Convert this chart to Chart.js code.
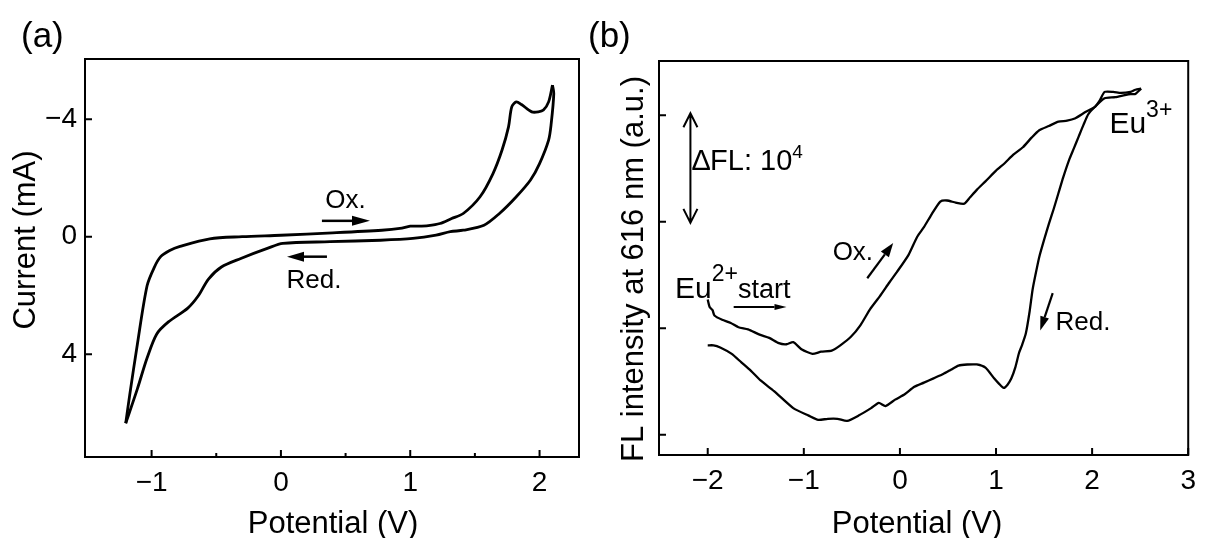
<!DOCTYPE html>
<html>
<head>
<meta charset="utf-8">
<script src="https://cdn.jsdelivr.net/npm/chart.js"></script>
<style>
  html, body { margin: 0; padding: 0; background: #fff; }
  #wrap { position: relative; width: 1205px; height: 538px; }
  canvas { position: absolute; left: 0; top: 0; }
</style>
</head>
<body>
<div id="wrap">
  <canvas id="cvChart" width="1205" height="538"></canvas>
  <canvas id="flChart" width="1205" height="538"></canvas>
</div>
<script>
const FONT = '"Liberation Sans", Arial, sans-serif';

// (a) cyclic voltammogram: forward (Ox.) and backward (Red.) sweep
const cvOxPotential = [-1.20, -1.17, -1.11, -1.035, -0.98, -0.93, -0.86, -0.78, -0.55, -0.30, 0.0, 0.4, 0.78, 0.92, 1.0, 1.05, 1.14, 1.23, 1.32, 1.41, 1.54, 1.64, 1.71, 1.76, 1.785, 1.82, 1.86, 1.94, 1.99, 2.03, 2.07, 2.10];
const cvOxCurrent = [6.35, 5.41, 3.66, 1.67, 1.05, 0.68, 0.47, 0.33, 0.07, 0.0, -0.05, -0.13, -0.22, -0.28, -0.36, -0.36, -0.38, -0.45, -0.62, -0.79, -1.36, -2.15, -2.95, -3.74, -4.42, -4.59, -4.50, -4.25, -4.25, -4.31, -4.59, -5.16];
const cvRedPotential = [2.10, 2.11, 2.09, 2.07, 2.00, 1.93, 1.82, 1.69, 1.57, 1.41, 1.31, 1.20, 1.02, 0.77, 0.38, 0.015, -0.10, -0.31, -0.46, -0.56, -0.64, -0.72, -0.87, -0.96, -1.035, -1.11, -1.20];
const cvRedCurrent = [-5.16, -4.87, -3.85, -3.29, -2.49, -1.93, -1.36, -0.79, -0.39, -0.22, -0.17, -0.05, 0.06, 0.12, 0.17, 0.23, 0.39, 0.74, 1.03, 1.44, 2.02, 2.43, 2.90, 3.31, 4.13, 5.18, 6.35];
const cvPotentialTicks = [-1, 0, 1, 2];
const cvPotentialMinor = [-0.5, 0.5, 1.5];
const cvCurrentTicks = [-4, 0, 4];

// (b) FL intensity at 616 nm (tick step = 10^4, offset arbitrary)
const flOxPotential = [-2.00, -1.98, -1.95, -1.93, -1.85, -1.76, -1.68, -1.58, -1.46, -1.36, -1.26, -1.18, -1.11, -1.02, -0.91, -0.82, -0.71, -0.62, -0.51, -0.41, -0.31, -0.21, -0.11, -0.03, 0.09, 0.18, 0.25, 0.33, 0.42, 0.49, 0.58, 0.67, 0.73, 0.80, 0.89, 1.00, 1.09, 1.18, 1.28, 1.37, 1.45, 1.55, 1.65, 1.74, 1.82, 1.93, 2.03, 2.08, 2.13, 2.22, 2.30, 2.40, 2.45, 2.51];
const flOxIntensity = [2.27, 2.20, 2.17, 2.12, 2.08, 2.05, 2.01, 1.99, 1.94, 1.91, 1.86, 1.85, 1.87, 1.80, 1.76, 1.78, 1.79, 1.84, 1.92, 2.03, 2.18, 2.30, 2.43, 2.53, 2.69, 2.86, 2.95, 3.07, 3.19, 3.20, 3.18, 3.17, 3.23, 3.30, 3.38, 3.48, 3.55, 3.63, 3.70, 3.79, 3.86, 3.90, 3.94, 3.95, 3.97, 4.03, 4.08, 4.14, 4.22, 4.22, 4.21, 4.22, 4.24, 4.25];
const flRedPotential = [2.51, 2.45, 2.40, 2.34, 2.24, 2.13, 2.03, 1.96, 1.91, 1.86, 1.81, 1.76, 1.70, 1.65, 1.60, 1.55, 1.50, 1.45, 1.41, 1.38, 1.35, 1.31, 1.27, 1.24, 1.20, 1.16, 1.12, 1.08, 1.03, 0.98, 0.89, 0.80, 0.70, 0.61, 0.53, 0.45, 0.35, 0.25, 0.15, 0.05, -0.05, -0.15, -0.22, -0.30, -0.43, -0.55, -0.65, -0.75, -0.85, -0.95, -1.11, -1.31, -1.45, -1.55, -1.65, -1.75, -1.87, -1.94, -2.00];
const flRedIntensity = [4.25, 4.20, 4.20, 4.19, 4.17, 4.16, 4.08, 4.01, 3.91, 3.80, 3.69, 3.58, 3.42, 3.27, 3.12, 2.98, 2.83, 2.67, 2.50, 2.36, 2.16, 1.95, 1.84, 1.77, 1.63, 1.53, 1.47, 1.44, 1.48, 1.53, 1.63, 1.66, 1.66, 1.65, 1.61, 1.57, 1.53, 1.49, 1.45, 1.38, 1.33, 1.27, 1.30, 1.25, 1.18, 1.13, 1.15, 1.15, 1.14, 1.18, 1.25, 1.41, 1.51, 1.60, 1.68, 1.76, 1.82, 1.84, 1.84];
const flPotentialTicks = [-2, -1, 0, 1, 2, 3];
const flIntensityTicks = [1, 2, 3, 4];

function toPoints(xs, ys) {
  return xs.map((x, i) => ({ x: x, y: ys[i] }));
}

function withMinus(v) {
  return v < 0 ? "\u2212" + Math.abs(v) : String(v);
}

function drawRuns(ctx, x, y, runs, align) {
  let total = 0;
  runs.forEach((r) => {
    ctx.font = r.size + "px " + FONT;
    r.w = ctx.measureText(r.text).width;
    total += r.w;
  });
  let cx = align === "center" ? x - total / 2 : x;
  ctx.textAlign = "left";
  ctx.textBaseline = "alphabetic";
  runs.forEach((r) => {
    ctx.font = r.size + "px " + FONT;
    ctx.fillText(r.text, cx, y - (r.rise || 0));
    cx += r.w;
  });
}

function drawArrow(ctx, x1, y1, x2, y2, a) {
  const ang = Math.atan2(y2 - y1, x2 - x1);
  const len = a.head, half = a.half;
  ctx.lineWidth = a.width;
  ctx.beginPath();
  if (a.open) {
    ctx.moveTo(x1, y1);
    ctx.lineTo(x2, y2);
    [[x2, y2, ang], [x1, y1, ang + Math.PI]].forEach((e) => {
      const bx = e[0] - len * Math.cos(e[2]), by = e[1] - len * Math.sin(e[2]);
      ctx.moveTo(bx + half * Math.sin(e[2]), by - half * Math.cos(e[2]));
      ctx.lineTo(e[0], e[1]);
      ctx.lineTo(bx - half * Math.sin(e[2]), by + half * Math.cos(e[2]));
    });
    ctx.stroke();
    return;
  }
  const bx = x2 - len * Math.cos(ang), by = y2 - len * Math.sin(ang);
  ctx.moveTo(x1, y1);
  ctx.lineTo(bx, by);
  ctx.stroke();
  ctx.beginPath();
  ctx.moveTo(x2, y2);
  ctx.lineTo(bx + half * Math.sin(ang), by - half * Math.cos(ang));
  ctx.lineTo(bx - half * Math.sin(ang), by + half * Math.cos(ang));
  ctx.closePath();
  ctx.fill();
}

const decorPlugin = {
  id: "decor",
  afterDraw(chart, args, opts) {
    const ctx = chart.ctx;
    const area = chart.chartArea;
    const sx = chart.scales.x;
    const sy = chart.scales.y;
    ctx.save();
    ctx.strokeStyle = "#000";
    ctx.fillStyle = "#000";

    // frame and inward ticks
    ctx.lineWidth = 2;
    ctx.strokeRect(area.left, area.top, area.right - area.left, area.bottom - area.top);
    ctx.beginPath();
    opts.xTicks.forEach((v) => {
      const px = sx.getPixelForValue(v);
      ctx.moveTo(px, area.bottom);
      ctx.lineTo(px, area.bottom - 7);
    });
    (opts.xMinor || []).forEach((v) => {
      const px = sx.getPixelForValue(v);
      ctx.moveTo(px, area.bottom);
      ctx.lineTo(px, area.bottom - 4);
    });
    opts.yTicks.forEach((v) => {
      const py = sy.getPixelForValue(v);
      ctx.moveTo(area.left, py);
      ctx.lineTo(area.left + 7, py);
    });
    ctx.stroke();

    (opts.arrows || []).forEach((a) => {
      drawArrow(ctx,
        sx.getPixelForValue(a.from[0]), sy.getPixelForValue(a.from[1]),
        sx.getPixelForValue(a.to[0]), sy.getPixelForValue(a.to[1]), a);
    });

    (opts.labels || []).forEach((l) => {
      drawRuns(ctx, sx.getPixelForValue(l.at[0]), sy.getPixelForValue(l.at[1]), l.runs, l.align);
    });

    // panel letter and axis titles
    (opts.titles || []).forEach((t) => {
      ctx.save();
      ctx.font = t.size + "px " + FONT;
      ctx.textAlign = t.align || "center";
      ctx.textBaseline = "middle";
      ctx.translate(t.x, t.y);
      if (t.rotate) ctx.rotate(-Math.PI / 2);
      ctx.fillText(t.text, 0, 0);
      ctx.restore();
    });
    ctx.restore();
  },
};

function axisTicks(values) {
  return function (scale) {
    scale.ticks = values.map((v) => ({ value: v }));
  };
}

function lineSet(points, width, tension) {
  return {
    data: points,
    borderColor: "#000",
    borderWidth: width,
    pointRadius: 0,
    fill: false,
    tension: tension,
  };
}

const tickFont = { family: FONT, size: 28 };

new Chart(document.getElementById("cvChart"), {
  type: "line",
  data: {
    datasets: [
      lineSet(toPoints(cvOxPotential, cvOxCurrent), 2.8, 0.3),
      lineSet(toPoints(cvRedPotential, cvRedCurrent), 2.8, 0.3),
    ],
  },
  options: {
    responsive: false,
    animation: false,
    layout: { padding: { left: 0, right: 626, top: 59, bottom: 0 } },
    plugins: {
      legend: { display: false },
      tooltip: { enabled: false },
      decor: {
        xTicks: cvPotentialTicks,
        xMinor: cvPotentialMinor,
        yTicks: cvCurrentTicks,
        arrows: [
          { from: [0.317, -0.54], to: [0.689, -0.54], head: 18, half: 5, width: 2.5 },
          { from: [0.356, 0.68], to: [0.047, 0.68], head: 17, half: 5, width: 2.5 },
        ],
        labels: [
          { at: [0.50, -0.97], align: "center", runs: [{ text: "Ox.", size: 26 }] },
          { at: [0.256, 1.75], align: "center", runs: [{ text: "Red.", size: 26 }] },
        ],
        titles: [
          { text: "(a)", x: 21, y: 37, size: 35, align: "left" },
          { text: "Potential (V)", x: 333, y: 524, size: 31 },
          { text: "Current (mA)", x: 26, y: 240, size: 31, rotate: true },
        ],
      },
    },
    scales: {
      x: {
        type: "linear",
        min: -1.515,
        max: 2.305,
        grid: { display: false, drawTicks: false },
        border: { display: false },
        afterBuildTicks: axisTicks(cvPotentialTicks),
        afterFit: (scale) => { scale.height = 81; },
        ticks: { padding: 9, color: "#000", font: tickFont, autoSkip: false, maxRotation: 0, callback: (v) => withMinus(v) },
      },
      y: {
        type: "linear",
        reverse: true,
        min: -6.05,
        max: 7.5,
        grid: { display: false, drawTicks: false },
        border: { display: false },
        afterBuildTicks: axisTicks(cvCurrentTicks),
        afterFit: (scale) => { scale.width = 85; },
        ticks: { padding: 8, color: "#000", font: tickFont, autoSkip: false, callback: (v) => withMinus(v) },
      },
    },
  },
  plugins: [decorPlugin],
});

new Chart(document.getElementById("flChart"), {
  type: "line",
  data: {
    datasets: [
      lineSet(toPoints(flOxPotential, flOxIntensity), 2.3, 0.2),
      lineSet(toPoints(flRedPotential, flRedIntensity), 2.3, 0.2),
    ],
  },
  options: {
    responsive: false,
    animation: false,
    layout: { padding: { left: 580, right: 11, top: 61, bottom: 0 } },
    plugins: {
      legend: { display: false },
      tooltip: { enabled: false },
      decor: {
        xTicks: flPotentialTicks,
        yTicks: flIntensityTicks,
        arrows: [
          { from: [-2.18, 4.02], to: [-2.18, 2.99], head: 14, half: 7, width: 2, open: true },
          { from: [-0.34, 2.47], to: [-0.07, 2.80], head: 14, half: 5, width: 2.2 },
          { from: [-1.73, 2.20], to: [-1.18, 2.20], head: 12, half: 3, width: 1.8 },
          { from: [1.59, 2.33], to: [1.46, 1.98], head: 14, half: 4.5, width: 2.2 },
        ],
        labels: [
          { at: [-2.16, 3.49], runs: [{ text: "\u2206FL: 10", size: 29 }, { text: "4", size: 19, rise: 12 }] },
          { at: [-0.70, 2.64], runs: [{ text: "Ox.", size: 26 }] },
          { at: [-2.34, 2.28], runs: [{ text: "Eu", size: 30 }, { text: "2+", size: 23, rise: 17 }, { text: "start", size: 27 }] },
          { at: [2.18, 3.83], runs: [{ text: "Eu", size: 30 }, { text: "3+", size: 23, rise: 16 }] },
          { at: [1.62, 1.98], runs: [{ text: "Red.", size: 26 }] },
        ],
        titles: [
          { text: "(b)", x: 588, y: 37, size: 35, align: "left" },
          { text: "Potential (V)", x: 917, y: 524, size: 31 },
          { text: "FL intensity at 616 nm (a.u.)", x: 634, y: 269, size: 31, rotate: true },
        ],
      },
    },
    scales: {
      x: {
        type: "linear",
        min: -2.507,
        max: 3,
        grid: { display: false, drawTicks: false },
        border: { display: false },
        afterBuildTicks: axisTicks(flPotentialTicks),
        afterFit: (scale) => { scale.height = 83; },
        ticks: { padding: 9, color: "#000", font: tickFont, autoSkip: false, maxRotation: 0, callback: (v) => withMinus(v) },
      },
      y: {
        type: "linear",
        min: 0.81,
        max: 4.51,
        grid: { display: false, drawTicks: false },
        border: { display: false },
        afterBuildTicks: axisTicks(flIntensityTicks),
        afterFit: (scale) => { scale.width = 79; },
        ticks: { display: false },
      },
    },
  },
  plugins: [decorPlugin],
});
</script>
</body>
</html>
